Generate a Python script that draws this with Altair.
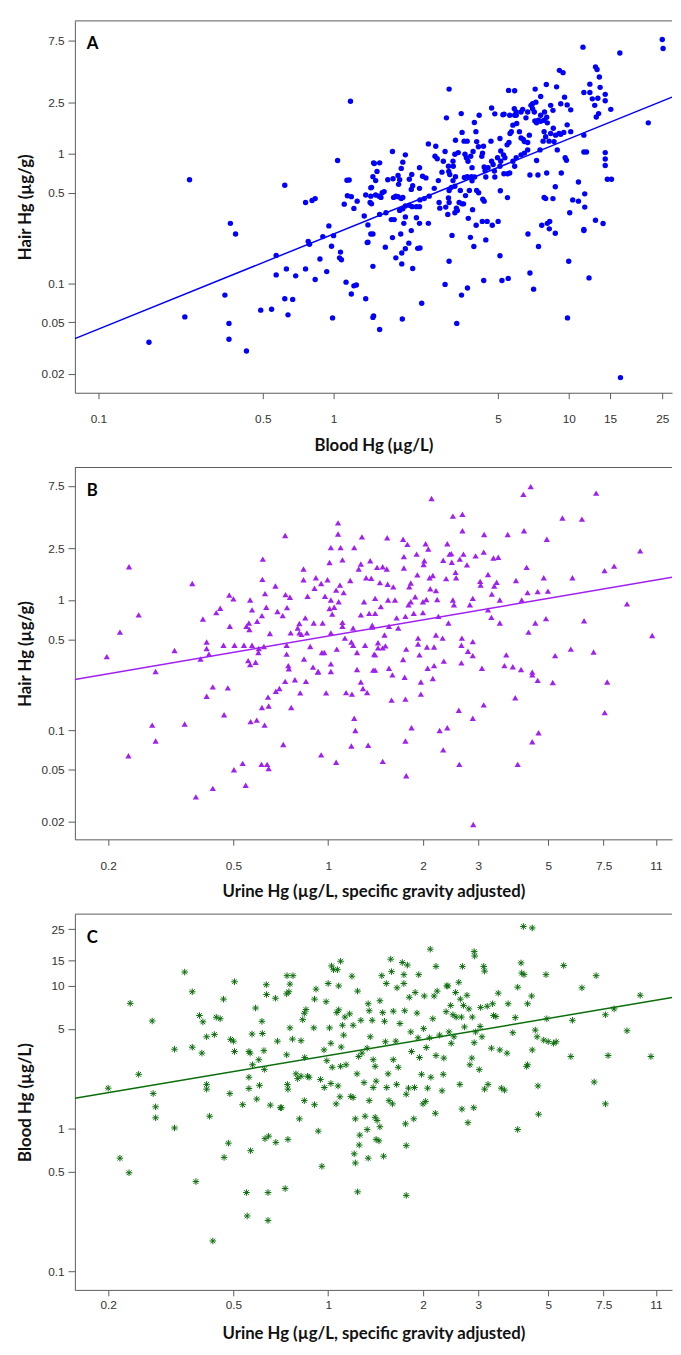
import math
import altair as alt
import pandas as pd

# ---------------- data ----------------
# Panel A: (blood Hg ug/L, hair Hg ug/g)
A_low = [
    (0.164, 0.035), (0.233, 0.055), (0.244, 0.63), (0.345, 0.081), (0.359, 0.049), (0.359, 0.037), (0.364, 0.29),
    (0.383, 0.24), (0.426, 0.030), (0.49, 0.062), (0.545, 0.063), (0.57, 0.164), (0.57, 0.116), (0.62, 0.57),
    (0.62, 0.076), (0.63, 0.129), (0.64, 0.057), (0.67, 0.075), (0.69, 0.114), (0.76, 0.42), (0.76, 0.129),
    (0.78, 0.21), (0.79, 0.20), (0.81, 0.435), (0.835, 0.45), (0.835, 0.107), (0.875, 0.154), (0.90, 0.229),
    (0.935, 0.123), (0.955, 0.277), (0.98, 0.193), (0.99, 0.054), (1.0, 0.233), (1.04, 0.885), (1.06, 0.157),
    (1.07, 0.174), (1.08, 0.152), (1.11, 0.408), (1.13, 0.102), (1.14, 0.624), (1.165, 0.627), (1.145, 0.474),
    (1.18, 2.54), (1.19, 0.466), (1.19, 0.0825), (1.22, 0.378), (1.22, 0.0955), (1.25, 0.097), (1.26, 0.43),
    (1.35, 0.33), (1.37, 0.48), (1.37, 0.076), (1.39, 0.206), (1.40, 0.282), (1.44, 0.24), (1.44, 0.545),
    (1.47, 0.665), (1.47, 0.135), (1.48, 0.056), (1.47, 0.0545), (1.49, 0.84), (1.45, 0.41), (1.51, 0.48),
]
A_mid = [
    (1.78, 1.04), (2.02, 0.98), (1.97, 0.86), (1.94, 0.77), (1.79, 0.64), (1.88, 0.68), (1.91, 0.63), (1.89, 0.58),
    (1.70, 0.63), (1.80, 0.46), (1.88, 0.465), (1.97, 0.46), (1.84, 0.47), (1.94, 0.45), (1.64, 0.51), (1.61, 0.50),
    (1.56, 0.47), (1.59, 0.46), (1.45, 0.55), (1.51, 0.62), (1.53, 0.73), (1.48, 0.85), (1.57, 0.85), (1.44, 0.47),
    (1.43, 0.42), (1.57, 0.34), (1.67, 0.35), (1.76, 0.31), (1.81, 0.31), (1.91, 0.365), (1.97, 0.376), (2.02, 0.325),
    (1.99, 0.29), (2.14, 0.255), (2.25, 0.32), (2.32, 0.29), (2.53, 0.29), (1.66, 0.19), (1.78, 0.225), (1.93, 0.24),
    (2.09, 0.204), (2.02, 0.185), (1.95, 0.171), (1.84, 0.157), (1.95, 0.141), (2.17, 0.13), (2.28, 0.186), (2.33, 0.187),
    (1.47, 0.24), (1.40, 0.207), (1.57, 0.044), (1.96, 0.053), (2.37, 0.07), (2.15, 0.69), (2.10, 0.635), (2.17, 0.565),
    (2.14, 0.53), (2.32, 0.78), (2.39, 0.67), (2.47, 0.65), (2.32, 0.54), (2.53, 1.19), (2.72, 1.14), (2.70, 0.955),
    (2.76, 0.915), (2.98, 1.04), (2.93, 0.875), (2.89, 0.72), (2.79, 0.62), (2.68, 0.54), (2.55, 0.47), (2.43, 0.45),
    (2.32, 0.39), (2.33, 0.44), (2.25, 0.39), (2.16, 0.39), (2.10, 0.40), (2.02, 0.395),
]
A_high = [
    (3.02, 1.89), (3.10, 3.15), (3.08, 0.80), (3.09, 0.73), (3.12, 0.69), (3.23, 0.80), (3.22, 0.62), (3.17, 0.55),
    (3.10, 0.52), (3.08, 0.455), (3.10, 0.42), (3.00, 0.387), (2.83, 0.38), (2.81, 0.42), (3.06, 0.34), (3.28, 0.35),
    (3.36, 0.365), (3.33, 0.38), (3.52, 0.41), (3.64, 0.475), (3.46, 0.52), (3.28, 0.56), (3.30, 0.665), (3.22, 0.875),
    (3.28, 0.99), (3.39, 1.02), (3.30, 1.27), (3.49, 2.04), (3.52, 1.46), (3.59, 1.25), (3.70, 1.25), (3.62, 0.99),
    (3.67, 0.93), (3.73, 0.875), (3.83, 0.955), (3.88, 0.78), (3.86, 0.665), (3.60, 0.655), (3.70, 0.665), (3.88, 0.617),
    (3.78, 0.52), (3.98, 0.66), (3.92, 1.04), (3.97, 1.74), (4.16, 1.98), (4.03, 1.48), (4.06, 1.24), (4.13, 1.13),
    (4.34, 1.14), (4.30, 1.01), (4.27, 0.955), (4.37, 0.79), (4.41, 0.74), (4.44, 0.66), (4.54, 0.78), (4.67, 1.25),
    (4.70, 0.875), (4.77, 0.825), (4.83, 0.734), (4.85, 0.66), (4.70, 2.25), (4.85, 2.03), (5.10, 1.31), (5.14, 1.05),
    (4.98, 0.93), (5.14, 0.875), (5.10, 0.80), (5.28, 0.98), (5.35, 0.93), (5.47, 1.17), (5.57, 1.22), (5.63, 1.43),
    (5.70, 1.48), (5.79, 1.66), (5.89, 1.98), (5.98, 2.10), (5.87, 2.22), (6.01, 1.71), (6.17, 1.48), (6.27, 1.32),
    (6.41, 1.29), (6.48, 1.24), (6.69, 1.22), (6.80, 1.39), (6.58, 1.89), (6.69, 2.10), (6.91, 2.36), (7.02, 2.22),
    (7.14, 2.10), (7.30, 1.73), (7.18, 1.79), (7.43, 1.81), (7.60, 1.78), (7.86, 1.81), (8.06, 1.91), (8.11, 1.73),
    (7.86, 1.48), (7.98, 1.35), (7.78, 1.25), (8.25, 1.25), (8.38, 1.43), (8.60, 1.57), (8.80, 1.39), (9.10, 1.43),
    (9.25, 1.41), (9.53, 1.46), (9.85, 1.67), (10.2, 1.48), (8.66, 1.24), (8.94, 1.07), (7.55, 1.07), (6.69, 1.07),
    (6.48, 1.01), (6.27, 0.98), (5.98, 0.93), (5.79, 0.875), (5.89, 0.80), (5.61, 0.71), (5.49, 0.70), (5.30, 0.70),
    (5.89, 3.06), (5.55, 3.08), (7.20, 3.15), (7.60, 2.76), (8.03, 3.42), (8.88, 3.28), (9.13, 4.40), (9.46, 4.22),
    (9.60, 2.73), (10.2, 2.18), (9.85, 2.38), (9.25, 2.43), (8.57, 2.16), (8.38, 2.36), (7.89, 2.10), (7.60, 1.98),
    (7.25, 2.50), (7.02, 2.43), (6.37, 2.20), (6.27, 2.10), (5.98, 1.98), (5.61, 1.98), (5.31, 2.02), (5.25, 2.00),
    (6.84, 0.685), (7.40, 0.685), (8.06, 0.71), (7.30, 0.885), (7.86, 0.46), (7.98, 0.45), (8.57, 0.45), (8.77, 0.555),
    (9.30, 0.71), (9.66, 0.93), (9.78, 0.89), (11.0, 0.605), (10.4, 0.44), (11.0, 0.43), (11.7, 0.49), (11.7, 0.387),
    (11.6, 0.26), (11.6, 0.255), (10.1, 0.35), (10.0, 0.148), (9.88, 0.054), (8.30, 0.30), (8.11, 0.29), (8.27, 0.263),
    (8.77, 0.243), (7.68, 0.28), (7.44, 0.192), (6.71, 0.24), (6.84, 0.12), (7.09, 0.09), (5.53, 0.109), (5.20, 0.105),
    (5.10, 0.163), (5.49, 0.458), (5.12, 0.518), (4.37, 0.43), (4.31, 0.445), (4.29, 0.30), (4.50, 0.30), (4.73, 0.28),
    (5.01, 0.30), (4.14, 0.50), (4.06, 0.52), (4.04, 0.28), (3.95, 0.192), (3.82, 0.226), (3.90, 0.37), (3.74, 0.317),
    (3.57, 0.41), (3.42, 0.42), (4.44, 0.216), (3.71, 0.092), (3.50, 0.081), (3.34, 0.049), (2.98, 0.098), (3.10, 0.148),
    (3.19, 0.234), (4.35, 0.105), (11.5, 6.64), (12.3, 3.44), (12.3, 2.97), (11.6, 2.97), (13.0, 4.68), (13.2, 4.47),
    (13.5, 3.91), (13.6, 3.25), (13.3, 2.68), (12.9, 2.36), (12.6, 2.65), (14.3, 2.87), (14.3, 2.56), (15.1, 2.20),
    (13.4, 2.04), (13.1, 1.92), (11.6, 1.39), (11.6, 1.03), (11.9, 1.03), (14.3, 1.02), (14.3, 0.91), (14.3, 0.81),
    (14.6, 0.635), (15.2, 0.635), (13.0, 0.306), (14.0, 0.289), (12.2, 0.11), (16.5, 5.99), (21.8, 1.73), (25.0, 7.6),
    (25.2, 6.48), (16.6, 0.0187),
]

# Panel B: (urine Hg ug/L SG-adjusted, hair Hg ug/g)
B_low = [
    (0.198, 0.368), (0.218, 0.567), (0.233, 1.80), (0.25, 0.77), (0.232, 0.064), (0.276, 0.11), (0.283, 0.283),
    (0.283, 0.083), (0.325, 0.41), (0.35, 0.112), (0.37, 1.34), (0.38, 0.031), (0.393, 0.353), (0.40, 0.715),
    (0.411, 0.477), (0.411, 0.425), (0.418, 0.385), (0.411, 0.183), (0.43, 0.216), (0.43, 0.036), (0.441, 0.80),
    (0.454, 0.865), (0.465, 0.45), (0.467, 0.132), (0.48, 0.212), (0.485, 1.09), (0.487, 0.63), (0.50, 1.02),
    (0.504, 0.45), (0.502, 0.05), (0.535, 0.056), (0.54, 0.45), (0.547, 0.038), (0.55, 0.63), (0.56, 0.667),
    (0.562, 0.594), (0.565, 1.0), (0.573, 0.84), (0.573, 0.45), (0.557, 0.343), (0.565, 0.32), (0.567, 0.117),
    (0.588, 0.333), (0.593, 0.12), (0.595, 0.687), (0.60, 0.396), (0.602, 0.425), (0.616, 0.76), (0.618, 1.44),
    (0.62, 2.06), (0.625, 0.44), (0.628, 0.11), (0.63, 1.12), (0.614, 0.055), (0.64, 0.055), (0.647, 0.051),
    (0.636, 0.88), (0.644, 0.18), (0.653, 0.554), (0.647, 0.154), (0.616, 0.15), (0.68, 1.28), (0.682, 0.2),
    (0.70, 0.21), (0.69, 0.817), (0.717, 0.76), (0.72, 0.078), (0.73, 3.12), (0.732, 1.1), (0.738, 0.45),
    (0.738, 0.385), (0.74, 0.875), (0.747, 0.314), (0.75, 0.297), (0.756, 1.05), (0.76, 0.56), (0.73, 0.238),
    (0.763, 0.15), (0.784, 0.245), (0.80, 0.61), (0.81, 0.66), (0.81, 0.56), (0.815, 0.194), (0.822, 0.545),
    (0.835, 1.73), (0.835, 1.43), (0.838, 0.353), (0.846, 0.73), (0.85, 0.238), (0.856, 0.56), (0.86, 1.07),
    (0.877, 0.44), (0.895, 0.306), (0.90, 0.667), (0.905, 1.23), (0.914, 1.48), (0.927, 0.28), (0.93, 0.283),
    (0.95, 1.34), (0.95, 0.065), (0.955, 0.396), (0.96, 0.667), (0.972, 0.396), (0.977, 1.07), (0.985, 0.194),
    (0.995, 1.43), (1.01, 0.86), (1.01, 1.94), (1.02, 0.56), (1.02, 2.52), (1.02, 0.283), (1.02, 0.324),
    (1.02, 1.0), (1.03, 0.78), (1.045, 0.88), (1.06, 0.057), (1.06, 1.19), (1.065, 0.42), (1.075, 3.21),
    (1.075, 3.9), (1.08, 0.97), (1.09, 1.3), (1.095, 2.52), (1.11, 2.03), (1.11, 0.674), (1.11, 0.63),
    (1.12, 1.14), (1.13, 0.51), (1.14, 0.195), (1.175, 1.41), (1.185, 0.477), (1.19, 0.19), (1.2, 0.61),
    (1.21, 2.52), (1.2, 0.45), (1.21, 0.124), (1.22, 0.10), (1.185, 0.076), (1.235, 0.396), (1.235, 0.293),
    (1.25, 1.73), (1.27, 1.89), (1.27, 0.77), (1.27, 0.235), (1.28, 3.05), (1.29, 0.21), (1.3, 0.97),
    (1.31, 0.45), (1.32, 1.48), (1.33, 0.195), (1.34, 0.077), (1.35, 0.79), (1.36, 2.0), (1.37, 1.47),
    (1.38, 0.62), (1.39, 0.29), (1.4, 0.385), (1.41, 0.79),
]
B_high = [
    (1.38, 0.64), (1.41, 1.03), (1.41, 0.38), (1.41, 0.29), (1.43, 1.78), (1.44, 0.47), (1.44, 0.43), (1.46, 1.36),
    (1.47, 0.89), (1.49, 1.8), (1.49, 0.43), (1.49, 0.058), (1.51, 0.54), (1.52, 0.445), (1.535, 1.73), (1.54, 3.0),
    (1.545, 1.32), (1.55, 1.0), (1.56, 0.63), (1.56, 0.3), (1.59, 0.171), (1.6, 0.267), (1.61, 1.26), (1.63, 1.0),
    (1.65, 0.73), (1.67, 0.61), (1.73, 2.92), (1.73, 0.35), (1.74, 2.15), (1.74, 1.76), (1.75, 0.256), (1.76, 0.75),
    (1.76, 0.174), (1.76, 0.083), (1.77, 0.045), (1.77, 0.42), (1.785, 2.67), (1.8, 0.92), (1.81, 1.26), (1.83, 0.97),
    (1.83, 1.35), (1.84, 0.105), (1.87, 0.79), (1.89, 1.06), (1.91, 2.25), (1.92, 1.56), (1.93, 0.46), (1.93, 0.51),
    (1.95, 0.38), (1.97, 0.235), (1.97, 0.19), (2.0, 0.8), (2.0, 0.97), (2.01, 1.87), (2.02, 2.0), (2.04, 2.7),
    (2.05, 1.01), (2.06, 0.436), (2.07, 0.3), (2.08, 2.46), (2.1, 1.48), (2.11, 1.22), (2.13, 6.0), (2.15, 1.54),
    (2.15, 0.25), (2.17, 0.436), (2.17, 0.314), (2.2, 0.54), (2.2, 1.18), (2.22, 1.01), (2.24, 0.75), (2.26, 0.1),
    (2.31, 0.51), (2.32, 0.071), (2.33, 0.34), (2.32, 2.02), (2.37, 1.46), (2.39, 2.7), (2.39, 0.105), (2.41, 0.667),
    (2.43, 2.25), (2.46, 2.27), (2.47, 1.95), (2.49, 1.0), (2.51, 0.92), (2.49, 4.4), (2.54, 1.63), (2.55, 1.48),
    (2.6, 0.143), (2.61, 0.055), (2.62, 2.06), (2.65, 0.45), (2.66, 0.51), (2.67, 4.55), (2.67, 3.4), (2.65, 0.33),
    (2.69, 2.25), (2.76, 1.86), (2.78, 0.405), (2.82, 0.92), (2.88, 1.03), (2.88, 0.48), (2.88, 0.375), (2.88, 0.124),
    (2.89, 0.019), (2.94, 2.18), (3.04, 1.39), (3.05, 1.3), (3.08, 0.3), (3.12, 0.157), (3.12, 2.33), (3.13, 3.18),
    (3.22, 0.84), (3.22, 1.57), (3.3, 0.736), (3.31, 1.11), (3.35, 2.1), (3.37, 1.28), (3.43, 1.37), (3.47, 2.13),
    (3.51, 0.667), (3.51, 1.0), (3.63, 0.314), (3.68, 0.38), (3.72, 3.18), (3.86, 0.308), (3.93, 0.178), (3.95, 1.41),
    (4.0, 0.055), (4.1, 0.293), (4.12, 1.0), (4.17, 6.45), (4.3, 1.14), (4.27, 1.78), (4.33, 0.567), (4.4, 7.4),
    (4.19, 3.4), (4.45, 0.28), (4.45, 0.267), (4.45, 0.082), (4.55, 0.667), (4.63, 0.242), (4.66, 0.096), (4.63, 1.16),
    (4.84, 1.48), (4.92, 0.72), (4.95, 2.92), (4.99, 1.17), (5.17, 0.233), (5.26, 0.375), (5.55, 4.25), (5.9, 0.42),
    (5.97, 1.48), (6.4, 4.17), (6.5, 0.694), (6.97, 0.4), (7.1, 6.6), (7.55, 1.68), (7.7, 0.235), (7.56, 0.137),
    (8.1, 1.82), (8.9, 0.935), (9.8, 2.38), (10.7, 0.535),
]

# Panel C: (urine Hg ug/L SG-adjusted, blood Hg ug/L)
C_low = [
    (0.2, 1.92), (0.218, 0.62), (0.233, 0.49), (0.235, 7.55), (0.25, 2.4), (0.276, 5.68), (0.278, 1.76), (0.283, 1.42),
    (0.283, 1.19), (0.325, 3.6), (0.325, 1.01), (0.35, 12.5), (0.37, 3.72), (0.37, 9.1), (0.38, 0.425), (0.39, 6.2),
    (0.4, 5.6), (0.397, 3.38), (0.411, 4.4), (0.411, 2.04), (0.411, 1.89), (0.42, 1.22), (0.43, 0.163), (0.435, 4.56),
    (0.441, 6.03), (0.454, 5.89), (0.465, 8.08), (0.467, 0.628), (0.482, 0.79), (0.487, 1.76), (0.49, 4.22), (0.50, 4.1),
    (0.504, 10.7), (0.504, 3.47), (0.535, 1.47), (0.55, 0.356), (0.553, 0.244), (0.56, 3.47), (0.56, 2.29), (0.56, 1.91),
    (0.565, 3.38), (0.567, 0.70), (0.573, 4.6), (0.575, 2.8), (0.588, 7.0), (0.593, 1.61), (0.602, 3.04), (0.605, 2.01),
    (0.616, 5.65), (0.618, 4.64), (0.625, 3.52), (0.627, 2.6), (0.63, 0.85), (0.636, 10.2), (0.637, 8.7), (0.644, 0.356),
    (0.644, 0.227), (0.647, 0.885), (0.655, 1.46), (0.68, 8.2), (0.682, 0.80), (0.69, 4.1), (0.705, 1.4), (0.71, 1.4),
    (0.73, 0.38), (0.738, 8.8), (0.738, 3.29), (0.74, 11.8), (0.742, 2.04), (0.745, 1.89), (0.745, 0.84), (0.75, 9.1),
    (0.756, 5.08), (0.756, 10.3), (0.77, 4.24), (0.773, 11.8), (0.79, 2.42), (0.80, 2.24), (0.81, 1.17), (0.82, 4.13),
    (0.82, 2.33), (0.83, 5.8), (0.84, 6.43), (0.84, 1.57), (0.842, 3.15), (0.85, 6.83), (0.86, 2.33), (0.87, 2.29),
    (0.9, 5.08), (0.905, 8.08), (0.905, 1.47), (0.915, 9.5), (0.93, 0.96), (0.945, 2.21), (0.955, 0.544), (0.97, 3.56),
    (0.972, 1.94), (0.985, 7.75), (0.99, 2.99), (1.0, 10.4), (1.01, 5.08), (1.02, 3.96), (1.02, 2.07), (1.025, 13.8),
    (1.03, 2.69), (1.04, 13.0), (1.06, 1.49), (1.065, 6.5), (1.07, 13.0), (1.075, 1.99), (1.08, 10.0), (1.08, 6.8),
    (1.09, 1.67), (1.095, 14.9), (1.095, 2.73), (1.1, 3.73), (1.11, 5.3), (1.12, 4.52), (1.13, 6.05), (1.14, 2.8),
    (1.17, 6.37), (1.18, 1.68), (1.19, 11.7), (1.2, 5.3), (1.2, 1.65), (1.21, 0.665), (1.22, 0.574), (1.22, 1.17),
    (1.235, 2.42), (1.24, 0.36), (1.24, 9.2), (1.255, 0.767), (1.26, 0.90), (1.27, 5.74), (1.28, 3.38), (1.3, 2.1),
    (1.31, 1.22), (1.33, 0.984), (1.34, 0.62), (1.34, 7.5), (1.35, 6.7), (1.36, 4.4), (1.38, 5.74), (1.39, 3.04),
    (1.39, 1.94), (1.41, 1.2), (1.42, 0.84), (1.25, 3.2),
]
C_high = [
    (1.33, 3.66), (1.35, 1.57), (1.41, 2.73), (1.42, 2.15), (1.43, 1.14), (1.45, 0.82), (1.46, 7.87), (1.46, 1.03),
    (1.48, 11.8), (1.49, 6.5), (1.5, 0.64), (1.51, 5.65), (1.52, 4.06), (1.53, 10.4), (1.535, 1.94), (1.55, 2.42),
    (1.56, 1.57), (1.58, 15.4), (1.59, 12.6), (1.6, 1.49), (1.61, 3.04), (1.61, 6.65), (1.64, 4.1), (1.65, 2.04),
    (1.655, 9.7), (1.67, 2.69), (1.69, 5.45), (1.72, 14.6), (1.74, 12.0), (1.74, 10.4), (1.75, 6.7), (1.76, 1.08),
    (1.77, 0.34), (1.77, 1.74), (1.77, 0.76), (1.785, 14.0), (1.8, 1.92), (1.81, 8.33), (1.83, 4.76), (1.84, 3.47),
    (1.87, 1.17), (1.88, 1.94), (1.89, 9.0), (1.915, 6.45), (1.93, 4.33), (1.94, 12.0), (1.95, 3.15), (1.98, 2.4),
    (2.0, 1.49), (2.01, 5.02), (2.02, 8.5), (2.04, 1.55), (2.05, 3.7), (2.07, 1.92), (2.1, 4.33), (2.11, 18.1),
    (2.12, 2.29), (2.15, 5.89), (2.17, 8.5), (2.19, 1.28), (2.2, 13.7), (2.2, 3.25), (2.22, 9.2), (2.26, 4.52),
    (2.3, 1.84), (2.32, 2.4), (2.33, 3.12), (2.37, 6.6), (2.38, 10.0), (2.4, 10.0), (2.42, 4.76), (2.45, 7.3),
    (2.46, 3.96), (2.49, 6.28), (2.51, 4.4), (2.54, 9.0), (2.55, 6.05), (2.6, 10.6), (2.62, 2.04), (2.63, 8.08),
    (2.65, 6.05), (2.66, 1.37), (2.67, 13.7), (2.69, 7.3), (2.71, 5.16), (2.76, 8.6), (2.78, 1.1), (2.8, 6.9),
    (2.82, 2.8), (2.86, 3.12), (2.87, 6.05), (2.9, 1.4), (2.91, 17.4), (2.91, 4.0), (2.92, 16.2), (2.94, 4.76),
    (3.02, 2.59), (3.04, 5.2), (3.05, 7.07), (3.08, 4.4), (3.12, 13.7), (3.14, 12.7), (3.14, 1.89), (3.2, 7.2),
    (3.22, 2.04), (3.3, 3.66), (3.33, 7.5), (3.35, 6.2), (3.41, 6.1), (3.47, 8.9), (3.51, 3.56), (3.55, 1.92),
    (3.63, 1.86), (3.7, 3.38), (3.73, 7.5), (3.86, 4.7), (3.93, 6.0), (4.0, 9.8), (4.0, 0.985), (4.1, 14.5),
    (4.12, 12.3), (4.17, 26.1), (4.19, 12.0), (4.27, 2.73), (4.3, 2.8), (4.3, 7.5), (4.43, 8.5), (4.45, 3.56),
    (4.45, 25.5), (4.55, 4.9), (4.61, 4.4), (4.64, 1.99), (4.66, 1.26), (4.84, 4.17), (4.92, 12.0), (4.95, 5.89),
    (5.0, 4.07), (5.2, 3.96), (5.3, 4.06), (5.6, 13.9), (5.9, 3.2), (5.97, 5.74), (6.4, 9.7), (7.0, 2.12),
    (7.1, 11.8), (7.6, 1.49), (7.6, 6.28), (7.75, 3.25), (8.1, 6.9), (8.9, 4.85), (9.8, 8.6), (10.6, 3.2),
]

panel_letters = ["A", "B", "C"]
blood_x_ticks = [0.1, 0.5, 1, 5, 10, 15, 25]
hair_ticks = [0.02, 0.05, 0.1, 0.5, 1, 2.5, 7.5]
urine_ticks = [0.2, 0.5, 1, 2, 3, 5, 7.5, 11]
blood_y_ticks = [0.1, 0.5, 1, 5, 10, 15, 25]

# fitted lines: log10(y) = intercept + slope * log10(x)
fit_A = (-0.62, 0.734)
fit_B = (-0.277, 0.4135)
fit_C = (0.512, 0.372)

# ---------------- styling ----------------
W = 607
LABEL_FONT = "Liberation Sans"
TITLE_FONT = "Lato"
AXC = "#5a5a5a"


def panel(points, xname, yname, xtitle, ytitle, xdom, ydom, xticks, yticks, fit,
          color, shape, filled, size, letter, height, lab_pad, title_pad):
    df = pd.DataFrame(points, columns=[xname, yname])
    xs = alt.Scale(type="log", domain=xdom, nice=False)
    ys = alt.Scale(type="log", domain=ydom, nice=False)
    xaxis = alt.Axis(values=xticks, format="~g", title=xtitle, grid=False, domain=True,
                     domainColor=AXC, tickColor=AXC, tickSize=6, labelPadding=lab_pad,
                     labelFont=LABEL_FONT, labelFontSize=12, labelColor="#333333", labelFlush=False,
                     titleFont=TITLE_FONT, titleFontSize=17, titleFontWeight="bold", titleColor="#111111",
                     titlePadding=title_pad)
    yaxis = alt.Axis(values=yticks, format="~g", title=ytitle, grid=False, domain=True,
                     domainColor=AXC, tickColor=AXC, tickSize=7, labelPadding=4,
                     labelFont=LABEL_FONT, labelFontSize=12, labelColor="#333333", labelFlush=False,
                     minExtent=35, maxExtent=35,
                     titleFont=TITLE_FONT, titleFontSize=17, titleFontWeight="bold", titleColor="#111111",
                     titlePadding=6)
    pts = alt.Chart(df).mark_point(shape=shape, filled=filled, size=size, color=color, opacity=1,
                                   strokeWidth=1, clip=True).encode(
        x=alt.X(f"{xname}:Q", scale=xs, axis=xaxis),
        y=alt.Y(f"{yname}:Q", scale=ys, axis=yaxis),
    )
    lx = list(xdom)
    ly = [10 ** (fit[0] + fit[1] * math.log10(v)) for v in lx]
    line_df = pd.DataFrame({xname: lx, yname: ly})
    line = alt.Chart(line_df).mark_line(color=color, strokeWidth=1.5, clip=True).encode(
        x=alt.X(f"{xname}:Q", scale=xs, axis=xaxis),
        y=alt.Y(f"{yname}:Q", scale=ys, axis=yaxis),
    )
    lab_df = pd.DataFrame({"t": [letter]})
    top = alt.Chart(lab_df).mark_rule(color=AXC, strokeWidth=1).encode(
        x=alt.value(0), x2=alt.value(W), y=alt.value(0))
    txt = alt.Chart(lab_df).mark_text(font=TITLE_FONT, fontSize=17, fontWeight="bold", align="left",
                                      baseline="middle", color="#000000").encode(
        text="t:N", x=alt.value(12), y=alt.value(24))
    return alt.layer(pts, line, top, txt).properties(width=W, height=height)


ASTERISK = "M-1,0L1,0M0,-1L0,1M-0.72,-0.72L0.72,0.72M-0.72,0.72L0.72,-0.72"

pa = panel(A_low + A_mid + A_high, "blood", "hair", "Blood Hg (µg/L)", "Hair Hg (µg/g)",
           [0.0794, 27.5], [0.01428, 10.59], blood_x_ticks, hair_ticks, fit_A,
           "#0000ff", "circle", True, 30, panel_letters[0], 378, 15, 14)
pb = panel(B_low + B_high, "urine", "hair", "Urine Hg (µg/L, specific gravity adjusted)", "Hair Hg (µg/g)",
           [0.1568, 12.37], [0.01463, 10.37], urine_ticks, hair_ticks, fit_B,
           "#a020f0", "triangle-up", True, 40, panel_letters[1], 378, 16, 12)
pc = panel(C_low + C_high, "urine", "blood", "Urine Hg (µg/L, specific gravity adjusted)", "Blood Hg (µg/L)",
           [0.1568, 12.37], [0.07396, 31.87], urine_ticks, blood_y_ticks, fit_C,
           "#0a6e0a", ASTERISK, False, 45, panel_letters[2], 382, 4, 15)

chart = alt.vconcat(pa, pb, pc, spacing=76, bounds="flush").properties(
    padding={"left": 9, "top": 1, "right": 0, "bottom": 0}
).configure_view(stroke=None)

chart.save("out.html", embed_options={"renderer": "svg", "actions": False})
